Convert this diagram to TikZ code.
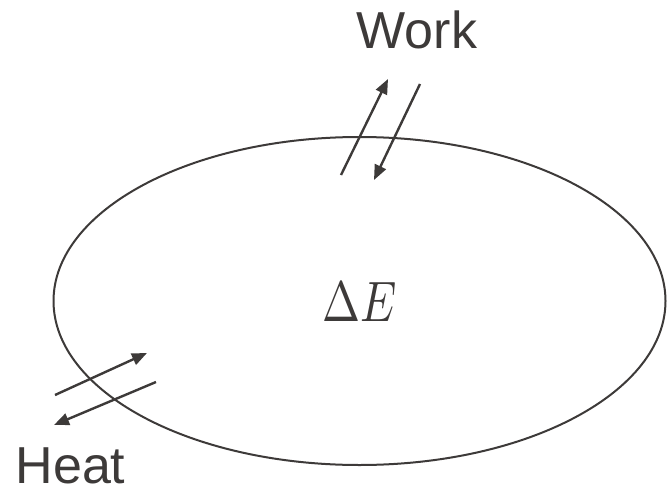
\documentclass[tikz,border=0pt]{standalone}
\usepackage{fontspec}
\usepackage{unicode-math}
\setmainfont{Liberation Sans}
\setmathfont{Latin Modern Math}
\usetikzlibrary{shapes.geometric,arrows.meta}
\definecolor{ink}{HTML}{3D3A39}
\tikzset{
  lbl/.style={text=ink, inner sep=0pt, font=\fontsize{52}{56}\selectfont},
  flow/.style={draw=ink, line width=2.4pt, -{Triangle[length=15pt,width=12pt]}},
}
\begin{document}
\begin{tikzpicture}[x=1pt,y=-1pt]
\useasboundingbox (0,0) rectangle (667,490);
\node[ellipse, draw=ink, line width=2pt, minimum width=612pt, minimum height=328pt, inner sep=0pt, text=ink, font=\fontsize{57}{60}\selectfont] (sys) at (359.5,301) {\scalebox{0.8}[1]{$\Delta E$}};
\node[lbl] (work) at (417,30) {Work};
\node[lbl] (heat) at (70.5,466) {Heat};
\coordinate (w1s) at (341,175);
\coordinate (w1e) at (388,79);
\coordinate (w2s) at (420,84);
\coordinate (w2e) at (374,180);
\coordinate (h1s) at (55,395);
\coordinate (h1e) at (147,353);
\coordinate (h2s) at (156,382);
\coordinate (h2e) at (54,425);
\draw[flow] (w1s) -- (w1e);
\draw[flow] (w2s) -- (w2e);
\draw[flow] (h1s) -- (h1e);
\draw[flow] (h2s) -- (h2e);
\end{tikzpicture}
\end{document}
